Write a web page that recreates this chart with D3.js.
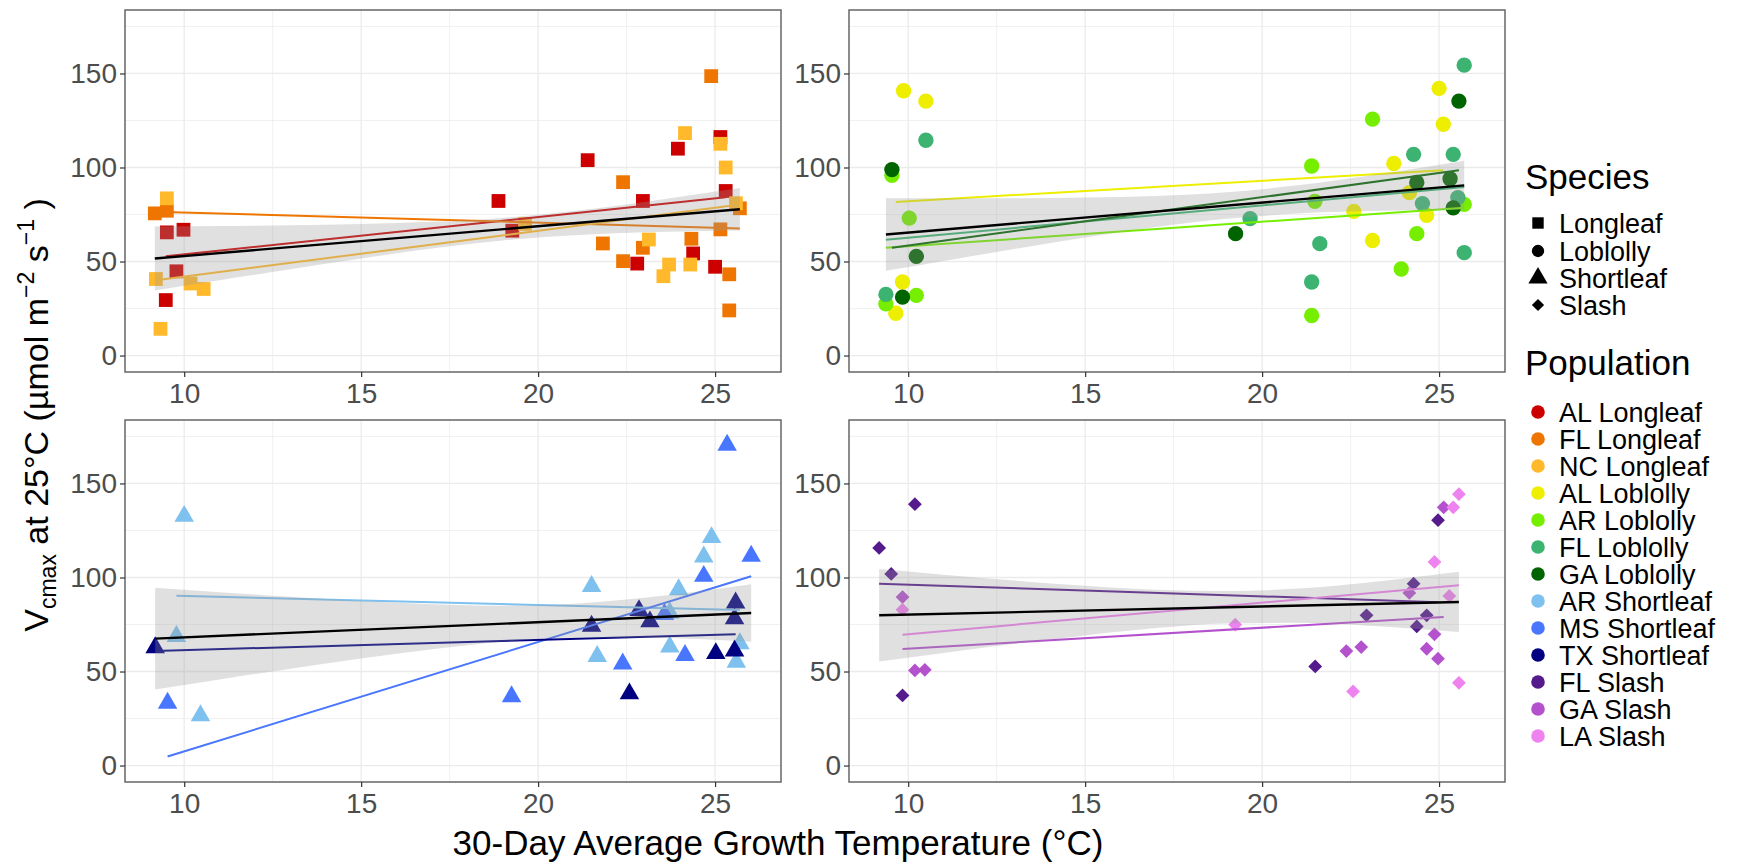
<!DOCTYPE html>
<html>
<head>
<meta charset="utf-8">
<script src="https://cdn.jsdelivr.net/npm/d3@7"></script>
<style>
  body { margin: 0; background: #fff; }
  svg { display: block; }
  text { font-family: "Liberation Sans", Arial, Helvetica, sans-serif; }
</style>
</head>
<body>
<svg id="chart" width="1745" height="865"></svg>
<script>
// ---- axis ticks -------------------------------------------------------
const xTicks = [10, 15, 20, 25];
const yTicks = [0, 50, 100, 150];
const xMinor = [12.5, 17.5, 22.5];
const yMinor = [25, 75, 125, 175];
const yLimits = [0, 175];

// ---- categories -------------------------------------------------------
const speciesNames = ["Longleaf", "Loblolly", "Shortleaf", "Slash"];
const populationNames = [
  "AL Longleaf", "FL Longleaf", "NC Longleaf",
  "AL Loblolly", "AR Loblolly", "FL Loblolly", "GA Loblolly",
  "AR Shortleaf", "MS Shortleaf", "TX Shortleaf",
  "FL Slash", "GA Slash", "LA Slash"
];
const populationColors = [
  "#CD0000", "#EE7600", "#FFB92B",
  "#EEEE00", "#76EE00", "#3CB371", "#006400",
  "#7EC0EE", "#4876FF", "#000080",
  "#551A8B", "#B452CD", "#EE82EE"
];

// ---- measurements: [growth temperature (°C), Vcmax at 25°C] -----------
const alLongleaf = [[9.51,65.5],[9.98,66.9],[9.78,44.8],[9.48,29.5],[18.88,82.2],[19.27,66.4],[21.4,103.9],[22.96,82.2],[22.8,48.9],[23.95,110],[24.38,54.3],[25.15,116.2],[25.3,87.5],[25.0,47.2]];
const flLongleaf = [[9.17,75.6],[9.51,77],[21.83,59.6],[22.4,92.2],[22.96,57.3],[22.4,50.2],[24.33,62.1],[24.89,148.6],[25.7,78.3],[25.15,67.1],[25.4,43.2],[25.4,24]];
const ncLongleaf = [[9.51,83.6],[9.2,40.7],[9.33,14.2],[10.18,38.3],[10.55,35.4],[19.63,70],[23.13,61.7],[23.7,48.4],[23.54,42.2],[24.15,118.3],[24.3,48.4],[25.15,112.6],[25.3,100],[25.59,81]];

const alLoblolly = [[9.87,140.8],[10.5,135.3],[9.84,39.1],[9.65,22.5],[22.59,76.7],[23.12,61.2],[23.72,102.1],[24.16,86.6],[24.65,74.6],[25.0,142.1],[25.12,123]];
const arLoblolly = [[9.54,95.9],[10.03,73.1],[10.23,32],[9.37,27.5],[21.4,100.8],[21.49,82],[21.4,21.3],[23.12,125.7],[24.37,64.8],[23.93,46],[25.71,80.4]];
const flLoblolly = [[10.5,114.5],[9.37,32.5],[19.66,72.8],[21.63,59.5],[21.4,39.1],[24.28,107],[24.53,80.8],[25.4,107],[25.53,84],[25.71,154.4],[25.71,54.7]];
const gaLoblolly = [[9.54,98.9],[10.23,52.7],[9.84,31.1],[19.25,64.8],[24.37,92],[25.31,94],[25.4,78.5],[25.56,135.3]];

const arShortleaf = [[10.0,132.6],[9.78,68.7],[10.46,26.6],[21.51,95.3],[21.67,58.1],[23.72,81.2],[23.97,93.6],[23.72,63.1],[24.68,111],[24.9,121.3],[25.7,64.9],[25.6,55]];
const msShortleaf = [[9.53,33.2],[19.25,36.7],[22.39,54.1],[23.57,80.4],[24.15,58.6],[24.68,100.7],[25.34,170.4],[26.02,111.4]];
const txShortleaf = [[9.18,62.7],[21.51,74.2],[22.58,38.2],[22.85,82.5],[23.16,76.5],[25.58,86.5],[25.55,78.1],[25.02,59.6],[25.55,61]];

const flSlash = [[9.18,115.7],[9.52,101.9],[10.19,139],[9.84,37.3],[21.5,52.7],[22.95,79.9],[24.28,96.7],[24.37,74],[24.65,79.9],[24.97,130.5]];
const gaSlash = [[9.84,89.6],[10.19,50.6],[10.47,50.9],[22.38,60.9],[22.8,63],[24.16,91.8],[24.65,62.1],[24.87,69.8],[24.97,56.8],[25.13,137.3]];
const laSlash = [[9.84,82.9],[19.24,74.9],[22.57,39.4],[24.87,108.3],[25.4,137.3],[25.56,144.3],[25.29,90.2],[25.56,44]];

// ---- per-population linear fits: [x start, y start, x end, y end] -----
const populationFits = [
  [9.48, 52.8, 25.3, 84.2],
  [9.17, 76.5, 25.7, 67.6],
  [9.2, 40.0, 25.59, 80.0],
  [9.65, 81.7, 25.12, 98.5],
  [9.37, 57.3, 25.71, 78.6],
  [9.37, 61.6, 25.71, 89.6],
  [9.54, 57.3, 25.56, 98.5],
  [9.78, 90.3, 25.7, 82.7],
  [9.53, 4.8, 26.02, 100.7],
  [9.18, 60.9, 25.58, 69.8],
  [9.18, 96.7, 24.97, 86.9],
  [9.84, 62.0, 25.13, 79.0],
  [9.84, 69.6, 25.56, 95.9]
];

// ---- species-level fits with 95% confidence band ----------------------
const speciesFits = [
  [9.17, 51.6, 25.7, 77.8],
  [9.37, 64.4, 25.71, 90.5],
  [9.18, 67.5, 26.02, 81.1],
  [9.18, 79.9, 25.56, 87.0]
];
const bandTemp = [
  [9.17, 11, 13, 15, 17, 19, 21, 23, 25.7],
  [9.37, 11, 13, 15, 17, 19, 21, 23, 25.71],
  [9.18, 11, 13, 15, 17, 19, 21, 23, 26.02],
  [9.18, 11, 13, 15, 17, 19, 21, 23, 25.56]
];
const bandLower = [
  [34.6, 40.0, 45.9, 51.6, 56.9, 61.2, 64.0, 65.5, 66.5],
  [45.1, 50.3, 56.7, 62.8, 68.3, 72.7, 75.5, 76.8, 77.4],
  [40.5, 45.8, 51.5, 56.9, 61.8, 65.8, 67.9, 68.0, 65.8],
  [55.3, 59.9, 64.8, 69.2, 73.1, 75.6, 75.9, 74.4, 71.0]
];
const bandUpper = [
  [68.6, 68.9, 69.3, 70.0, 71.1, 73.2, 76.8, 81.7, 89.1],
  [83.7, 83.7, 83.7, 84.0, 84.9, 86.9, 90.5, 95.6, 103.6],
  [94.5, 92.2, 89.7, 87.5, 85.8, 85.0, 86.1, 89.2, 96.4],
  [104.5, 101.5, 98.4, 95.6, 93.5, 92.8, 94.1, 97.4, 103.0]
];

// ---- assemble ---------------------------------------------------------
const populationData = [
  alLongleaf, flLongleaf, ncLongleaf,
  alLoblolly, arLoblolly, flLoblolly, gaLoblolly,
  arShortleaf, msShortleaf, txShortleaf,
  flSlash, gaSlash, laSlash
];
const speciesOfPopulation = [0,0,0,1,1,1,1,2,2,2,3,3,3];

const symbolTypes = [d3.symbolSquare, d3.symbolCircle, d3.symbolTriangle, d3.symbolSquare];
const symbolRotate = [0, 0, 0, 45];
const markerArea = [190, 185, 165, 95];
const legendArea = [130, 120, 160, 75];

const svg = d3.select("#chart");
const panelW = 656, panelH = 362;
const panelPos = [[125, 10], [849, 10], [125, 420], [849, 420]];

const allTemps = populationData.flat().map(d => d[0]);
const [tMin, tMax] = d3.extent(allTemps);
const tPad = (tMax - tMin) * 0.05;
const yPad = (yLimits[1] - yLimits[0]) * 0.05;

const x = d3.scaleLinear().domain([tMin - tPad, tMax + tPad]).range([0, panelW]);
const y = d3.scaleLinear().domain([yLimits[0] - yPad, yLimits[1] + yPad]).range([panelH, 0]);

const gridColor = "#EBEBEB";
const borderColor = "#666666";
const tickColor = "#333333";
const tickTextColor = "#4D4D4D";

speciesNames.forEach((sp, si) => {
  const g = svg.append("g").attr("transform", `translate(${panelPos[si][0]},${panelPos[si][1]})`);

  // grid
  g.selectAll(".minx").data(xMinor).join("line")
    .attr("x1", d => x(d)).attr("x2", d => x(d)).attr("y1", 0).attr("y2", panelH)
    .attr("stroke", gridColor).attr("stroke-width", 0.7);
  g.selectAll(".miny").data(yMinor).join("line")
    .attr("y1", d => y(d)).attr("y2", d => y(d)).attr("x1", 0).attr("x2", panelW)
    .attr("stroke", gridColor).attr("stroke-width", 0.7);
  g.selectAll(".majx").data(xTicks).join("line")
    .attr("x1", d => x(d)).attr("x2", d => x(d)).attr("y1", 0).attr("y2", panelH)
    .attr("stroke", gridColor).attr("stroke-width", 1.3);
  g.selectAll(".majy").data(yTicks).join("line")
    .attr("y1", d => y(d)).attr("y2", d => y(d)).attr("x1", 0).attr("x2", panelW)
    .attr("stroke", gridColor).attr("stroke-width", 1.3);

  const pops = d3.range(populationNames.length).filter(i => speciesOfPopulation[i] === si);

  // points
  const sym = d3.symbol().type(symbolTypes[si]).size(markerArea[si]);
  pops.forEach(pi => {
    g.append("g").selectAll("path").data(populationData[pi]).join("path")
      .attr("d", sym)
      .attr("transform", d => `translate(${x(d[0])},${y(d[1])}) rotate(${symbolRotate[si]})`)
      .attr("fill", populationColors[pi]);
  });

  // population fits
  pops.forEach(pi => {
    const f = populationFits[pi];
    g.append("line")
      .attr("x1", x(f[0])).attr("y1", y(f[1]))
      .attr("x2", x(f[2])).attr("y2", y(f[3]))
      .attr("stroke", populationColors[pi]).attr("stroke-width", 2);
  });

  // species confidence band and fit
  const band = bandTemp[si].map((t, k) => ({ t, lo: bandLower[si][k], hi: bandUpper[si][k] }));
  g.append("path").datum(band)
    .attr("d", d3.area().x(d => x(d.t)).y0(d => y(d.lo)).y1(d => y(d.hi)).curve(d3.curveMonotoneX))
    .attr("fill", "#999999").attr("fill-opacity", 0.3);
  const sf = speciesFits[si];
  g.append("line")
    .attr("x1", x(sf[0])).attr("y1", y(sf[1]))
    .attr("x2", x(sf[2])).attr("y2", y(sf[3]))
    .attr("stroke", "#000").attr("stroke-width", 2.4);

  // border
  g.append("rect").attr("width", panelW).attr("height", panelH)
    .attr("fill", "none").attr("stroke", borderColor).attr("stroke-width", 1.5);

  // axes
  const ax = g.append("g").attr("transform", `translate(0,${panelH})`)
    .call(d3.axisBottom(x).tickValues(xTicks).tickSize(5).tickPadding(6).tickFormat(d3.format("d")));
  const ay = g.append("g")
    .call(d3.axisLeft(y).tickValues(yTicks).tickSize(5).tickPadding(3).tickFormat(d3.format("d")));
  [ax, ay].forEach(a => {
    a.select(".domain").remove();
    a.selectAll(".tick line").attr("stroke", tickColor).attr("stroke-width", 1.2);
    a.selectAll(".tick text").attr("fill", tickTextColor)
      .style("font-size", "28px").style("font-family", "'Liberation Sans', Arial, sans-serif");
  });
});

// ---- axis titles ------------------------------------------------------
svg.append("text")
  .attr("x", 778).attr("y", 855)
  .attr("text-anchor", "middle")
  .style("font-size", "35px")
  .text("30-Day Average Growth Temperature (°C)");

const yt = svg.append("text")
  .attr("transform", "translate(48,415) rotate(-90)")
  .attr("text-anchor", "middle")
  .style("font-size", "34px");
yt.append("tspan").text("V");
yt.append("tspan").attr("dy", 8).style("font-size", "23px").text("cmax");
yt.append("tspan").attr("dy", -8).text(" at 25°C (µmol m");
yt.append("tspan").attr("dy", -14).style("font-size", "23px").text("−2");
yt.append("tspan").attr("dy", 14).text(" s");
yt.append("tspan").attr("dy", -14).style("font-size", "23px").text("−1");
yt.append("tspan").attr("dy", 14).text(" )");

// ---- legends ----------------------------------------------------------
const legX = 1525;
const keyCx = legX + 13;
const labelX = legX + 34;

svg.append("text").attr("x", legX).attr("y", 189).style("font-size", "35px").text("Species");
const speciesRows = [223, 251, 278, 305];
speciesNames.forEach((sp, si) => {
  svg.append("path")
    .attr("d", d3.symbol().type(symbolTypes[si]).size(legendArea[si])())
    .attr("transform", `translate(${keyCx},${speciesRows[si]}) rotate(${symbolRotate[si]})`)
    .attr("fill", "#000");
  svg.append("text").attr("x", labelX).attr("y", speciesRows[si] + 10)
    .style("font-size", "27px").text(sp);
});

svg.append("text").attr("x", legX).attr("y", 375).style("font-size", "35px").text("Population");
const popRow0 = 412, popStep = 27;
populationNames.forEach((p, pi) => {
  const cy = popRow0 + pi * popStep;
  svg.append("circle").attr("cx", keyCx).attr("cy", cy).attr("r", 6.8)
    .attr("fill", populationColors[pi]);
  svg.append("text").attr("x", labelX).attr("y", cy + 10)
    .style("font-size", "27px").text(p);
});
</script>
</body>
</html>
